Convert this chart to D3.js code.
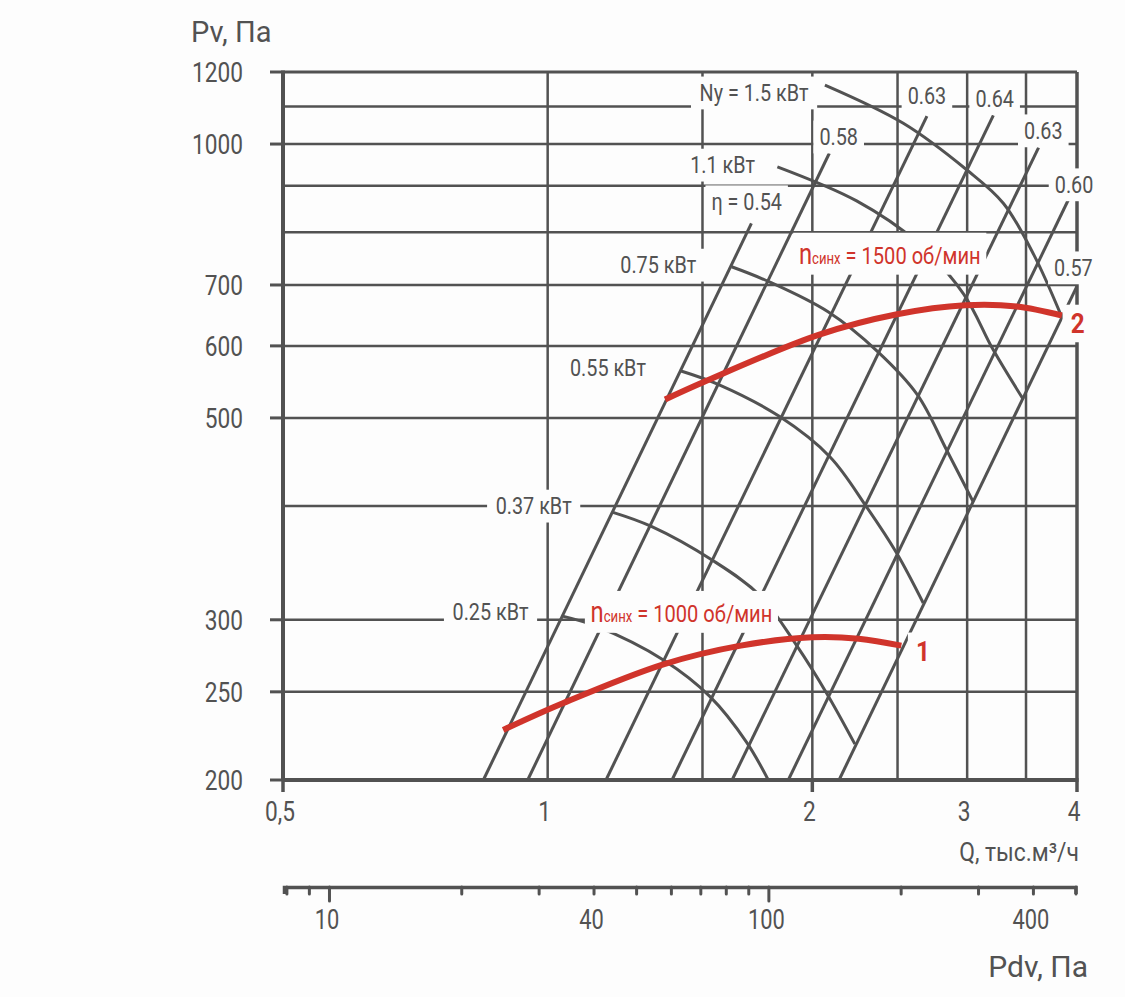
<!DOCTYPE html>
<html>
<head>
<meta charset="utf-8">
<script src="https://cdn.jsdelivr.net/npm/d3@7"></script>
<style>
  body { margin: 0; background: #fdfdfd; }
  svg { display: block; }
  text { font-family: Roboto, 'Liberation Sans', 'DejaVu Sans', sans-serif; fill: #525252; }
</style>
</head>
<body>
<div id="chart"></div>
<script>
// ---- axes / grid values
const qGrid = [0.5, 1, 1.5, 2, 2.5, 3, 3.5, 4];
const qTickLabels = [0.5, 1, 2, 3, 4];
const qTickMarks = [0.5, 2, 4];
const pGrid = [200, 250, 300, 400, 500, 600, 700, 800, 900, 1000, 1100, 1200];
const pTickLabels = [200, 250, 300, 500, 600, 700, 1000, 1200];
const pdvTicks = [8, 9, 10, 20, 30, 40, 50, 60, 70, 80, 90, 100, 200, 300, 400, 500];
const pdvMajor = [10, 100];
const pdvTickLabels = [10, 40, 100, 400];
const pdvStart = 7.9;

// ---- efficiency lines (start at 200 Pa, end at [Q1, P1])
const etaText = ["η = 0.54", "0.58", "0.63", "0.64", "0.63", "0.60", "0.57"];
const etaQ0 = [0.845, 0.949, 1.165, 1.385, 1.621, 1.878, 2.145];
const etaQ1 = [1.705, 2.091, 2.70, 3.213, 3.617, 3.912, 4.0];
const etaP1 = [818, 977, 1073, 1075, 991, 869, 698];
const etaLabelQ = [1.684, 2.143, 2.70, 3.224, 3.662, 3.969, 3.962];
const etaLabelP = [864, 1018, 1129, 1122, 1034, 902, 731];

// ---- power curves [Q, Pv]
const power150 = [[2.067, 1161], [2.538, 1054], [2.996, 937], [3.298, 861], [3.574, 755], [3.845, 645]];
const power110 = [[1.825, 944], [2.246, 866], [2.628, 781], [2.970, 685], [3.212, 594], [3.475, 524]];
const power075 = [[1.619, 733], [1.784, 706], [2.084, 654], [2.375, 591], [2.634, 530], [2.843, 461], [3.049, 404]];
const power055 = [[1.418, 563], [1.565, 544], [1.834, 502], [2.095, 453], [2.306, 399], [2.495, 355], [2.674, 313]];
const power037 = [[1.184, 394], [1.312, 380], [1.538, 349], [1.744, 319], [1.920, 281], [2.077, 249], [2.236, 219]];
const power025 = [[1.037, 303], [1.137, 295], [1.354, 271], [1.530, 247], [1.684, 220], [1.782, 200]];
const powerText = ["Ny = 1.5 кВт", "1.1 кВт", "0.75 кВт", "0.55 кВт", "0.37 кВт", "0.25 кВт"];
const powerLabelQ = [1.717, 1.581, 1.336, 1.171, 0.964, 0.861];
const powerLabelP = [1138, 948, 736, 567, 400, 306];

// ---- fan curves at synchronous speed
const fan1000 = [[0.890, 227], [1.042, 243], [1.354, 268], [1.658, 281], [1.998, 287], [2.258, 286], [2.525, 281]];
const fan1500 = [[1.360, 524], [1.507, 548], [2.033, 617], [2.497, 650], [2.983, 665], [3.416, 663], [3.845, 648]];
const rpmValues = [1000, 1500];
const rpmLabelQ = [1.119, 1.931];
const rpmLabelP = [305, 755];
const curveTags = ["1", "2"];
const curveTagQ = [2.672, 4.007];
const curveTagP = [277, 635];

const GRAY = "#525252";
const RED = "#d0342b";
const BG = "#fdfdfd";
const NARROW = 0.81;   // condensed look for digits
const LABEL_SX = 0.86;

const svg = d3.select("#chart")
    .append("svg")
    .attr("width", 1125)
    .attr("height", 997);

svg.append("rect").attr("width", 1125).attr("height", 997).attr("fill", BG);

const x = d3.scaleLog().domain([0.5, 4]).range([283, 1077]);
const y = d3.scaleLog().domain([200, 1200]).range([780, 72]);
const pdv = d3.scaleLog().domain([pdvStart, 500]).range([284, 1075.5]);

const place = (px, py, sx) => `translate(${px},${py}) scale(${sx},1)`;

// Grid
svg.append("g").selectAll("line")
    .data(pGrid)
    .join("line")
    .attr("x1", x(0.5)).attr("x2", x(4))
    .attr("y1", d => y(d)).attr("y2", d => y(d))
    .attr("stroke", GRAY)
    .attr("stroke-width", d => d === 1200 ? 3 : 2.5);

svg.append("g").selectAll("line")
    .data(qGrid.filter(d => d > 0.5))
    .join("line")
    .attr("x1", d => x(d)).attr("x2", d => x(d))
    .attr("y1", y(1200)).attr("y2", y(200))
    .attr("stroke", GRAY)
    .attr("stroke-width", d => d === 4 ? 3.5 : 2.5);

// Axis frame (left / bottom)
svg.append("line")
    .attr("x1", x(0.5)).attr("x2", x(0.5))
    .attr("y1", y(1200) - 1.5).attr("y2", y(200))
    .attr("stroke", GRAY).attr("stroke-width", 4);
svg.append("line")
    .attr("x1", x(0.5)).attr("x2", x(4) + 1.5)
    .attr("y1", y(200)).attr("y2", y(200))
    .attr("stroke", GRAY).attr("stroke-width", 4);

// Tick marks
svg.append("g").selectAll("line")
    .data(pTickLabels)
    .join("line")
    .attr("x1", x(0.5) - 13).attr("x2", x(0.5))
    .attr("y1", d => y(d)).attr("y2", d => y(d))
    .attr("stroke", GRAY).attr("stroke-width", 3);

svg.append("g").selectAll("line")
    .data(qTickMarks)
    .join("line")
    .attr("x1", d => x(d)).attr("x2", d => x(d))
    .attr("y1", y(200)).attr("y2", y(200) + 12)
    .attr("stroke", GRAY).attr("stroke-width", 3.5);

// Tick labels
svg.append("g").selectAll("text")
    .data(pTickLabels)
    .join("text")
    .attr("transform", d => place(x(0.5) - 40, y(d), NARROW))
    .attr("text-anchor", "end")
    .attr("dominant-baseline", "central")
    .attr("font-size", 28)
    .text(d => d);

svg.append("g").selectAll("text")
    .data(qTickLabels)
    .join("text")
    .attr("transform", d => place(x(d) - 3, y(200) + 31, NARROW))
    .attr("text-anchor", "middle")
    .attr("dominant-baseline", "central")
    .attr("font-size", 28)
    .text(d => String(d).replace(".", ","));

// Axis titles
svg.append("text")
    .attr("transform", place(191, 32, 1))
    .attr("dominant-baseline", "central")
    .attr("font-size", 29)
    .text("Pv, Па");

svg.append("text")
    .attr("transform", place(1079, 852, 0.88))
    .attr("text-anchor", "end")
    .attr("dominant-baseline", "central")
    .attr("font-size", 26)
    .text("Q, тыс.м³/ч");

// Dynamic pressure axis
const pdvAxis = d3.axisBottom(pdv)
    .tickValues(pdvTicks)
    .tickSizeOuter(0)
    .tickSize(7)
    .tickFormat("");

const pdvG = svg.append("g")
    .attr("transform", `translate(0, ${887})`)
    .call(pdvAxis);
pdvG.select(".domain").attr("stroke", GRAY).attr("stroke-width", 3.5);
pdvG.selectAll(".tick line")
    .attr("stroke", GRAY)
    .attr("stroke-width", 3)
    .attr("stroke-linecap", "round")
    .attr("y2", d => pdvMajor.includes(d) ? 14 : 7);

svg.append("g").selectAll("text")
    .data(pdvTickLabels)
    .join("text")
    .attr("transform", d => place(pdv(d) - 2, 920, NARROW))
    .attr("text-anchor", "middle")
    .attr("dominant-baseline", "central")
    .attr("font-size", 27)
    .text(d => d);

svg.append("text")
    .attr("transform", place(1088, 966, 1))
    .attr("text-anchor", "end")
    .attr("dominant-baseline", "central")
    .attr("font-size", 30)
    .text("Pdv, Па");

// Efficiency lines
const plotLine = d3.line().x(d => x(d[0])).y(d => y(d[1]));
const etaLines = etaQ0.map((q, i) => [[q, 200], [etaQ1[i], etaP1[i]]]);

svg.append("g").selectAll("path")
    .data(etaLines)
    .join("path")
    .attr("d", plotLine)
    .attr("fill", "none")
    .attr("stroke", GRAY)
    .attr("stroke-width", 3);

// Power curves
const smooth = d3.line()
    .x(d => x(d[0])).y(d => y(d[1]))
    .curve(d3.curveCatmullRom.alpha(0.5));

svg.append("g").selectAll("path")
    .data([power150, power110, power075, power055, power037, power025])
    .join("path")
    .attr("d", smooth)
    .attr("fill", "none")
    .attr("stroke", GRAY)
    .attr("stroke-width", 3);

// Fan curves
svg.append("g").selectAll("path")
    .data([fan1000, fan1500])
    .join("path")
    .attr("d", smooth)
    .attr("fill", "none")
    .attr("stroke", RED)
    .attr("stroke-width", 6);

// Labels with white boxes
const labels = svg.append("g");

function boxed(cx, cy, sx, fill, size, weight, build, padX, padY) {
    const grp = labels.append("g").attr("transform", place(cx, cy, sx));
    const t = grp.append("text")
        .attr("font-size", size)
        .attr("font-weight", weight)
        .style("fill", fill);
    build(t);
    const bb = t.node().getBBox();
    grp.insert("rect", "text")
        .attr("x", bb.x - padX).attr("y", bb.y - padY)
        .attr("width", bb.width + 2 * padX).attr("height", bb.height + 2 * padY)
        .attr("fill", BG);
}

powerText.forEach((txt, i) => {
    boxed(x(powerLabelQ[i]), y(powerLabelP[i]), LABEL_SX, GRAY, 23, "normal", t => {
        t.attr("text-anchor", "middle").attr("dominant-baseline", "central").text(txt);
    }, 10, 3);
});

etaText.forEach((txt, i) => {
    boxed(x(etaLabelQ[i]), y(etaLabelP[i]), LABEL_SX, GRAY, 23, "normal", t => {
        t.attr("text-anchor", "middle").attr("dominant-baseline", "central").text(txt);
    }, 7, 3);
});

rpmValues.forEach((rpm, i) => {
    boxed(x(rpmLabelQ[i]), y(rpmLabelP[i]) + 9, 0.82, RED, 24.5, "normal", t => {
        t.append("tspan").attr("font-size", 29).text("n");
        t.append("tspan").attr("font-size", 16).text("синх");
        t.append("tspan").text(` = ${rpm} об/мин`);
    }, 7, 4);
});

curveTags.forEach((tag, i) => {
    boxed(x(curveTagQ[i]), y(curveTagP[i]), 0.9, RED, 27, "bold", t => {
        t.attr("text-anchor", "middle").attr("dominant-baseline", "central").text(tag);
    }, 9, 3);
});
</script>
</body>
</html>
